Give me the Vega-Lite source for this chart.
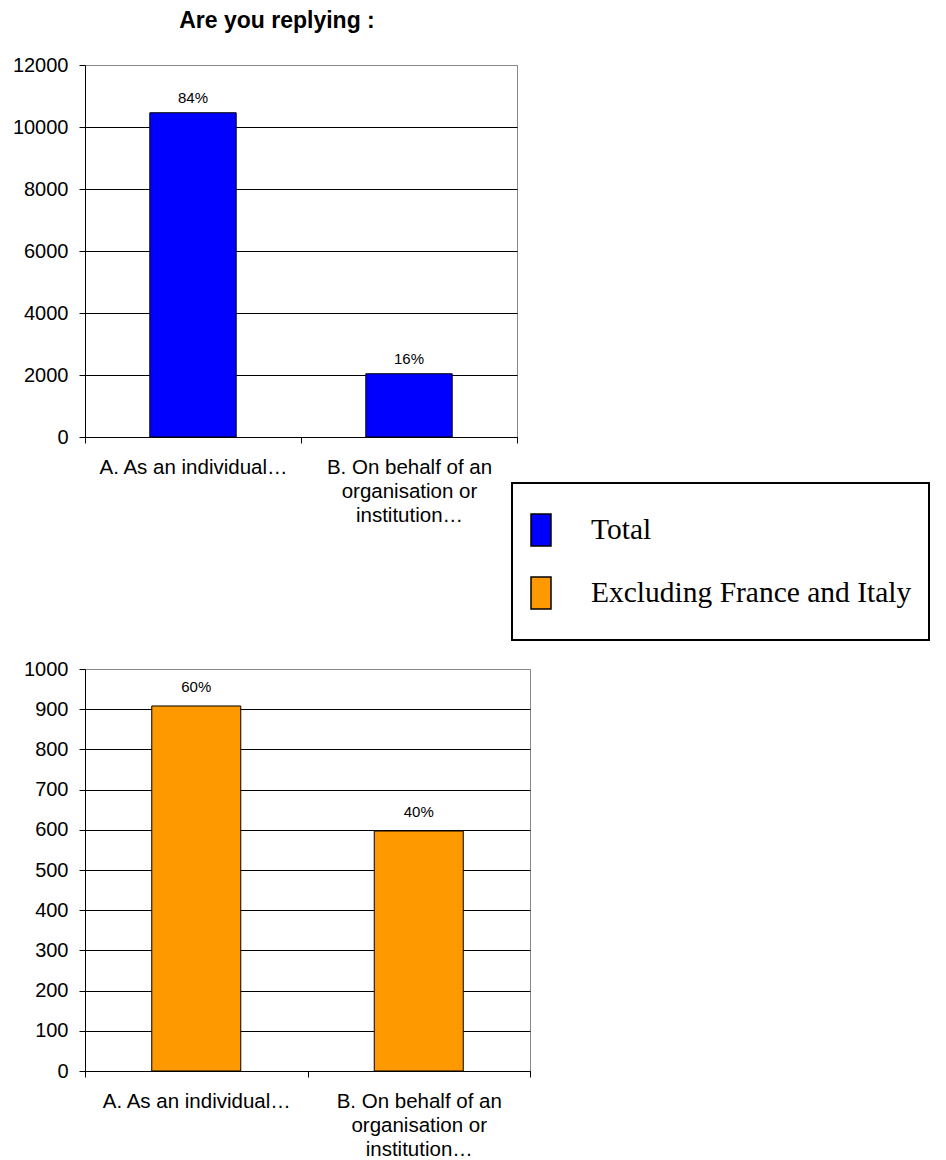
{
  "$schema": "https://vega.github.io/schema/vega-lite/v6.json",
  "background": "white",
  "padding": {"left": 11, "top": 9, "right": 3, "bottom": 0},
  "bounds": "flush",
  "spacing": 232,
  "config": {
    "font": "Liberation Sans",
    "view": {"stroke": "#888888", "strokeWidth": 1},
    "legend": {"strokeWidth": 2},
    "axis": {
      "domainColor": "black",
      "domainWidth": 1,
      "tickColor": "black",
      "tickWidth": 1,
      "gridOpacity": 1,
      "gridWidth": 1,
      "labelColor": "black",
      "labelFont": "Liberation Sans",
      "title": null
    }
  },
  "datasets": {
    "replies": [
      {"answer": "A. As an individual…", "series": "Total", "count": 10460, "share": "84%"},
      {"answer": "B. On behalf of an organisation or institution…", "series": "Total", "count": 2040, "share": "16%"},
      {"answer": "A. As an individual…", "series": "Excluding France and Italy", "count": 908, "share": "60%"},
      {"answer": "B. On behalf of an organisation or institution…", "series": "Excluding France and Italy", "count": 597, "share": "40%"}
    ]
  },
  "resolve": {"scale": {"x": "independent", "y": "independent"}},
  "vconcat": [
    {
      "width": 432,
      "height": 372,
      "title": {
        "text": "Are you replying :",
        "font": "Liberation Sans",
        "fontSize": 23,
        "fontWeight": "bold",
        "color": "black",
        "anchor": "middle",
        "dx": -24,
        "offset": 4,
        "baseline": "alphabetic"
      },
      "data": {"name": "replies"},
      "transform": [{"filter": "datum.series === 'Total'"}],
      "encoding": {
        "x": {
          "field": "answer",
          "type": "nominal",
          "sort": null,
          "scale": {"paddingInner": 0, "paddingOuter": 0},
          "axis": {
            "labelAngle": 0,
            "tickBand": "extent",
            "tickSize": 6,
            "labelPadding": 14,
            "labelFontSize": 20.5,
            "labelLineHeight": 24,
            "labelLimit": 0,
            "grid": false,
            "labelExpr": "datum.value == 'B. On behalf of an organisation or institution…' ? ['B. On behalf of an', 'organisation or', 'institution…'] : datum.value"
          }
        },
        "y": {
          "field": "count",
          "type": "quantitative",
          "scale": {"domain": [0, 12000], "nice": false},
          "axis": {
            "values": [0, 2000, 4000, 6000, 8000, 10000, 12000],
            "format": "d",
            "tickSize": 6,
            "labelPadding": 11,
            "labelFontSize": 20,
            "grid": true,
            "gridColor": {"condition": {"test": "datum.value === 12000", "value": "#888888"}, "value": "black"}
          }
        }
      },
      "layer": [
        {
          "mark": {"type": "bar", "stroke": "black", "strokeWidth": 1, "width": {"band": 0.4}},
          "encoding": {
            "color": {
              "field": "series",
              "type": "nominal",
              "scale": {"domain": ["Total", "Excluding France and Italy"], "range": ["#0000FF", "#FF9900"]},
              "legend": {
                "orient": "none",
                "legendX": 427,
                "legendY": 418,
                "title": null,
                "direction": "vertical",
                "labelFont": "Liberation Serif",
                "labelFontSize": 29.5,
                "labelColor": "black",
                "labelLimit": 0,
                "symbolType": "M-0.333,-0.533H0.333V0.533H-0.333Z",
                "symbolSize": 3600,
                "symbolStrokeColor": "black",
                "symbolStrokeWidth": 1.5,
                "symbolOpacity": 1,
                "symbolOffset": -19,
                "labelOffset": 19,
                "clipHeight": 60,
                "rowPadding": 3,
                "padding": 17,
                "strokeColor": "black",
                "fillColor": "white"
              }
            }
          }
        },
        {
          "mark": {"type": "text", "baseline": "alphabetic", "dy": -10, "fontSize": 15, "color": "black", "font": "Liberation Sans"},
          "encoding": {"text": {"field": "share"}}
        }
      ]
    },
    {
      "width": 445,
      "height": 402,
      "data": {"name": "replies"},
      "transform": [{"filter": "datum.series === 'Excluding France and Italy'"}],
      "encoding": {
        "x": {
          "field": "answer",
          "type": "nominal",
          "sort": null,
          "scale": {"paddingInner": 0, "paddingOuter": 0},
          "axis": {
            "labelAngle": 0,
            "tickBand": "extent",
            "tickSize": 6,
            "labelPadding": 14,
            "labelFontSize": 20.5,
            "labelLineHeight": 24,
            "labelLimit": 0,
            "grid": false,
            "labelExpr": "datum.value == 'B. On behalf of an organisation or institution…' ? ['B. On behalf of an', 'organisation or', 'institution…'] : datum.value"
          }
        },
        "y": {
          "field": "count",
          "type": "quantitative",
          "scale": {"domain": [0, 1000], "nice": false},
          "axis": {
            "values": [0, 100, 200, 300, 400, 500, 600, 700, 800, 900, 1000],
            "format": "d",
            "tickSize": 6,
            "labelPadding": 11,
            "labelFontSize": 20,
            "grid": true,
            "gridColor": {"condition": {"test": "datum.value === 1000", "value": "#888888"}, "value": "black"}
          }
        }
      },
      "layer": [
        {
          "mark": {"type": "bar", "stroke": "black", "strokeWidth": 1, "width": {"band": 0.4}},
          "encoding": {
            "color": {
              "field": "series",
              "type": "nominal",
              "scale": {"domain": ["Total", "Excluding France and Italy"], "range": ["#0000FF", "#FF9900"]}
            }
          }
        },
        {
          "mark": {"type": "text", "baseline": "alphabetic", "dy": -14, "fontSize": 15, "color": "black", "font": "Liberation Sans"},
          "encoding": {"text": {"field": "share"}}
        }
      ]
    }
  ]
}
